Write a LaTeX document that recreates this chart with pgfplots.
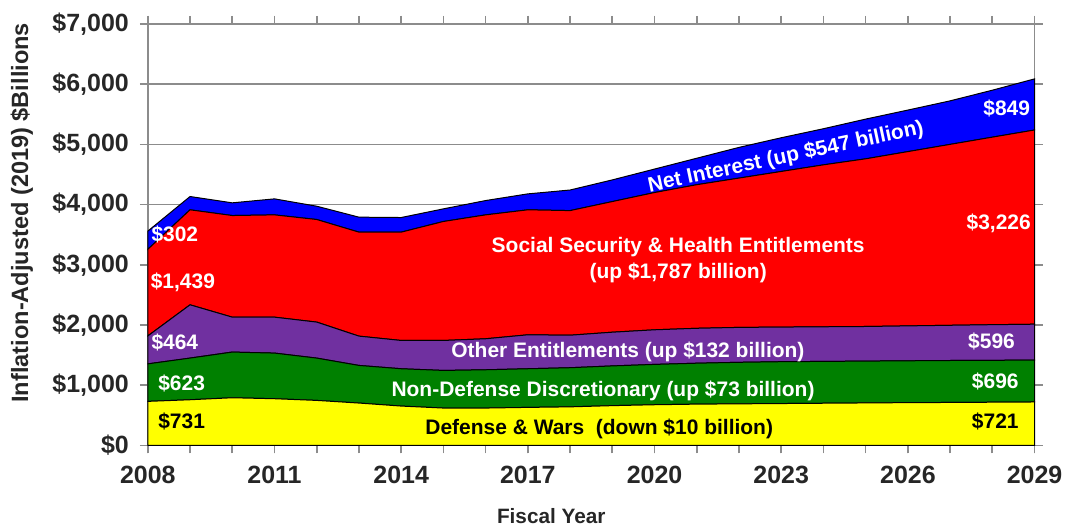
\documentclass[border=0pt]{standalone}
\usepackage{pgfplots}
\pgfplotsset{compat=1.18}
\usepackage{pgfplotstable}
\usepackage{fontspec}
\setmainfont{Liberation Sans}

\definecolor{defyel}{HTML}{FFFF00}
\definecolor{ndgreen}{HTML}{008000}
\definecolor{othpurp}{HTML}{7030A0}
\definecolor{ssred}{HTML}{FF0000}
\definecolor{niblue}{HTML}{0000FF}
\definecolor{gridgray}{HTML}{8C8C8C}

% Federal spending by category, inflation-adjusted (2019) $ billions
\pgfplotstableread{
year def nondef other ss ni
2008 731 623 464 1439 302
2009 758 692 885 1578 221
2010 791 759 580 1688 211
2011 775 758 597 1699 266
2012 747 703 598 1704 221
2013 703 625 487 1727 249
2014 653 620 470 1799 243
2015 620 625 498 1976 210
2016 620 636 515 2058 238
2017 631 642 564 2076 265
2018 640 650 540 2070 342
2019 660 660 560 2170 360
2020 675 670 575 2280 390
2021 685 680 580 2385 440
2022 690 690 580 2480 510
2023 695 695 575 2585 560
2024 700 695 575 2690 600
2025 705 695 575 2785 660
2026 710 695 580 2895 690
2027 713 697 585 3005 723
2028 717 696 592 3115 780
2029 721 696 596 3226 849
}\spend

\tikzset{seglabel/.style={font=\fontsize{10.5}{13}\selectfont\bfseries}}
\pgfplotsset{frame/.style={
  scale only axis,
  width=444pt, height=211pt,
  xmin=2008, xmax=2029, ymin=0, ymax=7000,
  clip=false}}

\begin{document}
\begin{tikzpicture}[font=\bfseries]
% stacked areas
\begin{axis}[
  frame,
  stack plots=y,
  axis line style={gridgray, line width=0.8pt},
  xtick={2008,2011,...,2029},
  xticklabels={2008,2011,2014,2017,2020,2023,2026,2029},
  minor xtick={2008,...,2029},
  ytick={0,1000,...,7000},
  yticklabels={{\$0},{\$1,000},{\$2,000},{\$3,000},{\$4,000},{\$5,000},{\$6,000},{\$7,000}},
  tick align=outside,
  major tick length=4pt, minor tick length=4pt,
  tick style={gridgray, line width=0.8pt},
  ymajorgrids,
  major grid style={gridgray, line width=0.8pt},
  ticklabel style={font=\fontsize{12.5}{15}\selectfont\bfseries, text=black!85},
  xticklabel style={yshift=-3pt},
  yticklabel style={xshift=-2pt},
]
\addplot[fill=defyel, draw=black, line width=0.5pt] table[x=year, y=def] {\spend} \closedcycle;
\addplot[fill=ndgreen, draw=black, line width=0.5pt] table[x=year, y=nondef] {\spend} \closedcycle;
\addplot[fill=othpurp, draw=black, line width=0.5pt] table[x=year, y=other] {\spend} \closedcycle;
\addplot[fill=ssred, draw=black, line width=0.5pt] table[x=year, y=ss] {\spend} \closedcycle;
\addplot[fill=niblue, draw=black, line width=0.5pt] table[x=year, y=ni] {\spend} \closedcycle;
\end{axis}
% annotations
\begin{axis}[frame, hide axis]
\node[seglabel, text=white] at (axis cs:2008.64,3511) {\$302};
\node[seglabel, text=white] at (axis cs:2008.83,2711) {\$1,439};
\node[seglabel, text=white] at (axis cs:2008.64,1703) {\$464};
\node[seglabel, text=white] at (axis cs:2008.80,1023) {\$623};
\node[seglabel, text=black] at (axis cs:2008.80,393) {\$731};
\node[seglabel, text=white, rotate=12] at (axis cs:2023.11,4784) {Net Interest (up \$547 billion)};
\node[seglabel, text=white, align=center] at (axis cs:2020.56,3080) {Social Security \& Health Entitlements\\(up \$1,787 billion)};
\node[seglabel, text=white] at (axis cs:2019.37,1555) {Other Entitlements (up \$132 billion)};
\node[seglabel, text=white] at (axis cs:2018.78,907) {Non-Defense Discretionary (up \$73 billion)};
\node[seglabel, text=black] at (axis cs:2018.69,277) {Defense \& Wars\ \ (down \$10 billion)};
\node[seglabel, text=white] at (axis cs:2028.34,5597) {\$849};
\node[seglabel, text=white] at (axis cs:2028.15,3689) {\$3,226};
\node[seglabel, text=white] at (axis cs:2027.98,1719) {\$596};
\node[seglabel, text=white] at (axis cs:2028.07,1056) {\$696};
\node[seglabel, text=black] at (axis cs:2028.07,393) {\$721};

\node[rotate=90, text=black!85, font=\fontsize{11.8}{14}\selectfont\bfseries]
  at (rel axis cs:-0.142,0.552) {Inflation-Adjusted (2019) \$Billions};
\node[text=black!85, font=\fontsize{10.4}{13}\selectfont\bfseries]
  at (rel axis cs:0.455,-0.168) {Fiscal Year};
\path (rel axis cs:-0.1667,-0.1967) rectangle (rel axis cs:1.0372,1.0569);
\end{axis}
\end{tikzpicture}
\end{document}
